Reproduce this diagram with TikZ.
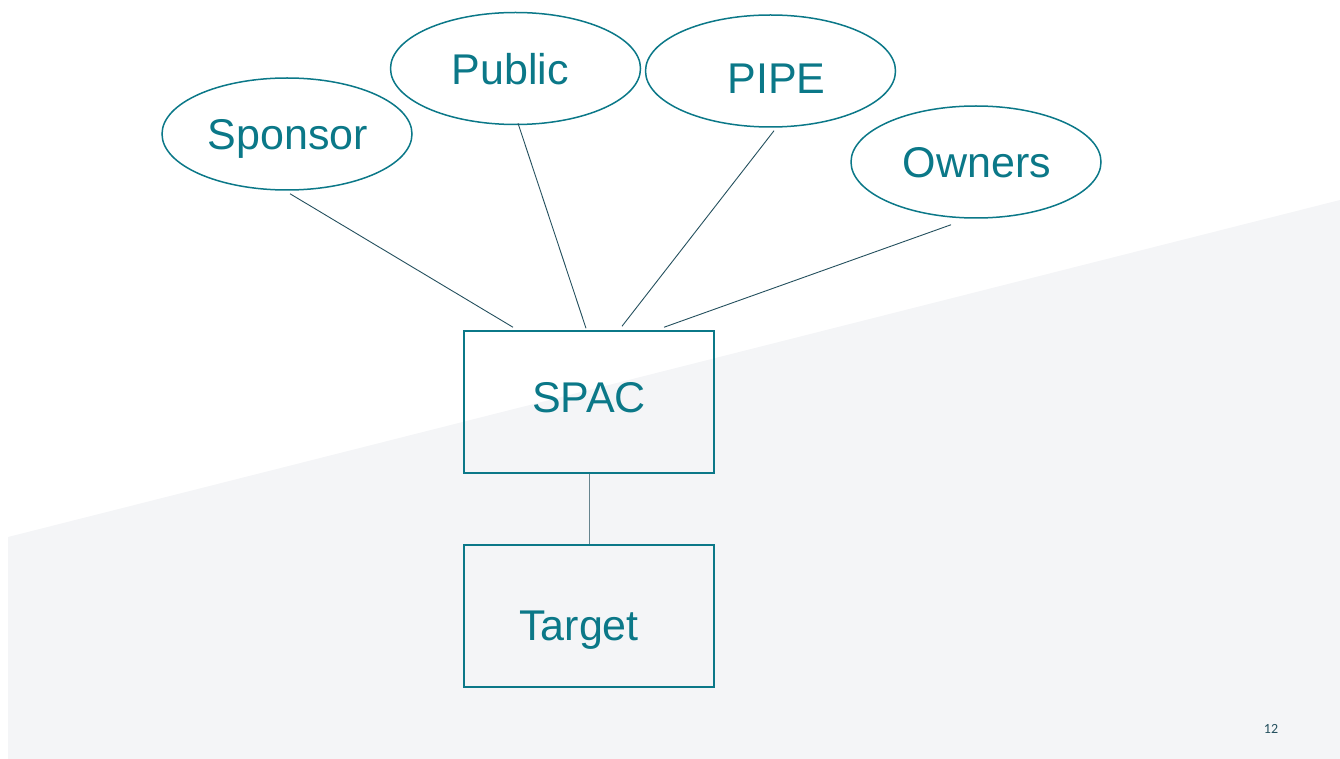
\documentclass[tikz,border=0pt]{standalone}
\usepackage{fontspec}
\setmainfont{Liberation Sans}
\newfontfamily\pagefont{Carlito}
\definecolor{sTeal}{HTML}{0B7888}
\definecolor{sLine}{HTML}{24505E}
\definecolor{sGrey}{HTML}{F4F5F7}
\usetikzlibrary{shapes.geometric}

\begin{document}
\begin{tikzpicture}[x=1pt, y=-1pt,
		oval/.style={ellipse, draw=sTeal, line width=1.5pt, inner sep=0pt, minimum width=250pt, minimum height=112pt, fill=white},
		party/.style={rectangle, draw=sTeal, line width=1.5pt, inner sep=0pt, minimum width=250pt, minimum height=142pt},
		lbl/.style={text=sTeal, font=\fontsize{43}{47}\selectfont, inner sep=0pt, text height=31pt, text depth=0pt},
		link/.style={draw=sLine, line width=0.9pt}]
		\useasboundingbox (0,0) rectangle (1340,759);
		% background band
		\fill[sGrey] (8,537) -- (1340,200) -- (1340,759) -- (8,759) -- cycle;
		\foreach \x/\y/\dx/\dy/\alph/\name in {
			287/134/1/0/sponsor/Sponsor,
			515.5/68.5/-5/-1/public/Public,
			770.5/71/6/-7/pipe/PIPE,
			976/162/1/0/owners/Owners
		 }{
		 	\node[oval, label={[lbl, xshift=\dx pt, yshift=\dy pt]center:\name}] (\alph) at (\x,\y) {};
		 }
		 \foreach \y/\dx/\dy/\alph/\name in {
			402/0/5/spac/SPAC,
			616/-10/-9/target/Target
		 }{
		 	\node[party, label={[lbl, xshift=\dx pt, yshift=\dy pt]center:\name}] (\alph) at (589,\y) {};
		 }
		 \draw[link] ([shift={(3pt,-3pt)}]sponsor.south) -- ([shift={(-76pt,3pt)}]spac.north);
		 \draw[link] ([shift={(2.5pt,2pt)}]public.south) -- ([shift={(-3pt,2pt)}]spac.north);
		 \draw[link] ([shift={(3.5pt,-3pt)}]pipe.south) -- ([shift={(33pt,4pt)}]spac.north);
		 \draw[link] ([shift={(-25pt,-6pt)}]owners.south) -- ([shift={(75pt,3pt)}]spac.north);
		 \draw[draw=sLine!70, line width=1pt] (spac) -- (target);
		 \node[text=sLine, font=\pagefont\fontsize{14}{16}\selectfont, inner sep=0pt] (page) at (1271,729) {12};
	\end{tikzpicture}
\end{document}
